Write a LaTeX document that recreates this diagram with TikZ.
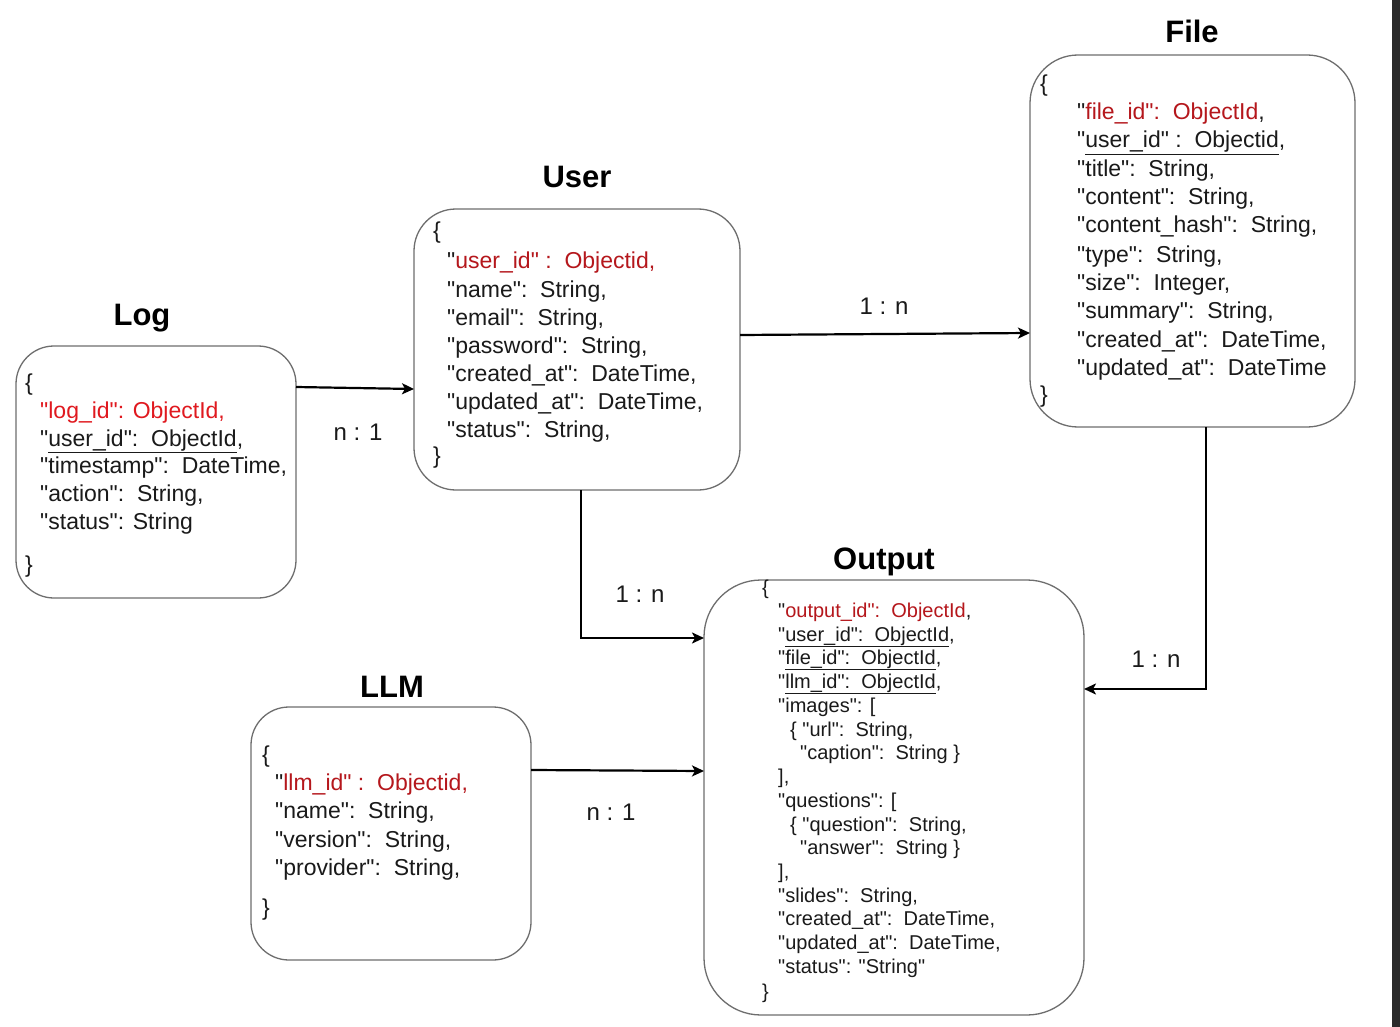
\documentclass[tikz,border=0pt]{standalone}
\usepackage{fontspec}
\setmainfont{Liberation Sans}[Ligatures=TeXOff]
\usetikzlibrary{arrows.meta,calc}
\definecolor{txt}{HTML}{1A1A1A}
\definecolor{redA}{HTML}{E0191F}
\definecolor{redB}{HTML}{B5171C}
\definecolor{edgegray}{HTML}{6E6E6E}
\definecolor{stripcol}{HTML}{2B2B2B}
\begin{document}
\begin{tikzpicture}[x=1pt,y=-1pt,
  box/.style={draw=edgegray, line width=1.3pt, fill=white, anchor=north west, inner sep=0pt, outer sep=0pt},
  fldA/.style={anchor=base west, inner sep=0pt, text=txt, font=\fontsize{23}{28}\selectfont},
  fldB/.style={anchor=base west, inner sep=0pt, text=txt, font=\fontsize{20}{24}\selectfont},
  ttl/.style={anchor=base, inner sep=0pt, text=black, font=\fontsize{31}{36}\selectfont\bfseries},
  lbl/.style={anchor=base, inner sep=0pt, text=txt, font=\fontsize{24}{28}\selectfont},
  conn/.style={draw=black, line width=2.2pt, -{Stealth[length=12pt,width=11pt,inset=3pt]}},
]
\useasboundingbox (0,0) rectangle (1400,1027);
\fill[white] (0,0) rectangle (1400,1027);
\fill[stripcol] (1392,0) rectangle (1400,1027);

% ---------- boxes ----------
\node[box, minimum width=280pt, minimum height=252pt, rounded corners=38pt] (log) at (16,346) {};
\node[box, minimum width=326pt, minimum height=281pt, rounded corners=42pt] (user) at (414,209) {};
\node[box, minimum width=325pt, minimum height=372pt, rounded corners=48pt] (file) at (1030,55) {};
\node[box, minimum width=380pt, minimum height=435pt, rounded corners=57pt] (output) at (704,580) {};
\node[box, minimum width=280pt, minimum height=253pt, rounded corners=38pt] (llm) at (251,707) {};

% ---------- titles ----------
\node[ttl] (tlog) at (142,325) {Log};
\node[ttl] (tuser) at (577,188) {User};
\node[ttl] (tfile) at (1192,43) {File};
\node[ttl] (toutput) at (884,569) {Output};
\node[ttl] (tllm) at (392,697) {LLM};

% ---------- Log ----------
\node[fldA] (logo) at (25,390) {\{};
\node[fldA, text=redA] (log1) at (40,418) {"log\_id": ObjectId,};
\node[fldA] (log2) at (40,446) {"\underline{user\_id":~~ObjectId},};
\node[fldA] (log3) at (40,473) {"timestamp":~~DateTime,};
\node[fldA] (log4) at (40,501) {"action":~~String,};
\node[fldA] (log5) at (40,529) {"status": String};
\node[fldA] (logc) at (25,572) {\}};

% ---------- User ----------
\node[fldA] (usero) at (433,238) {\{};
\node[fldA] (user1) at (447,269) {"\textcolor{redB}{user\_id" :~~Objectid,}};
\node[fldA] (user2) at (447,297) {"name":~~String,};
\node[fldA] (user3) at (447,325) {"email":~~String,};
\node[fldA] (user4) at (447,353) {"password":~~String,};
\node[fldA] (user5) at (447,381) {"created\_at":~~DateTime,};
\node[fldA] (user6) at (447,409) {"updated\_at":~~DateTime,};
\node[fldA] (user7) at (447,437) {"status":~~String,};
\node[fldA] (userc) at (433,463) {\}};

% ---------- File ----------
\node[fldA] (fileo) at (1040,92) {\{};
\node[fldA] (file1) at (1077,120) {"\textcolor{redB}{file\_id":~~ObjectId},};
\node[fldA] (file2) at (1077,148) {"\underline{user\_id" :~~Objectid},};
\node[fldA] (file3) at (1077,177) {"title":~~String,};
\node[fldA] (file4) at (1077,205) {"content":~~String,};
\node[fldA] (file5) at (1077,233) {"content\_hash":~~String,};
\node[fldA] (file6) at (1077,262) {"type":~~String,};
\node[fldA] (file7) at (1077,290) {"size":~~Integer,};
\node[fldA] (file8) at (1077,318) {"summary":~~String,};
\node[fldA] (file9) at (1077,347) {"created\_at":~~DateTime,};
\node[fldA] (file10) at (1077,375) {"updated\_at":~~DateTime};
\node[fldA] (filec) at (1040,402) {\}};

% ---------- Output ----------
\node[fldB] (outo) at (762,594) {\{};
\node[fldB] (out1) at (778,617) {"\textcolor{redB}{output\_id":~~ObjectId},};
\node[fldB] (out2) at (778,641) {"\underline{user\_id":~~ObjectId},};
\node[fldB] (out3) at (778,664) {"\underline{file\_id":~~ObjectId},};
\node[fldB] (out4) at (778,688) {"\underline{llm\_id":~~ObjectId},};
\node[fldB] (out5) at (778,712) {"images": [};
\node[fldB] (out6) at (790,736) {\{ "url":~~String,};
\node[fldB] (out7) at (800,759) {"caption":~~String \}};
\node[fldB] (out8) at (778,783) {],};
\node[fldB] (out9) at (778,807) {"questions": [};
\node[fldB] (out10) at (790,831) {\{ "question":~~String,};
\node[fldB] (out11) at (800,854) {"answer":~~String \}};
\node[fldB] (out12) at (778,878) {],};
\node[fldB] (out13) at (778,902) {"slides":~~String,};
\node[fldB] (out14) at (778,925) {"created\_at":~~DateTime,};
\node[fldB] (out15) at (778,949) {"updated\_at":~~DateTime,};
\node[fldB] (out16) at (778,973) {"status": "String"};
\node[fldB] (outc) at (762,998) {\}};

% ---------- LLM ----------
\node[fldA] (llmo) at (262,762) {\{};
\node[fldA] (llm1) at (275,790) {"\textcolor{redB}{llm\_id" :~~Objectid,}};
\node[fldA] (llm2) at (275,818) {"name":~~String,};
\node[fldA] (llm3) at (275,847) {"version":~~String,};
\node[fldA] (llm4) at (275,875) {"provider":~~String,};
\node[fldA] (llmc) at (262,915) {\}};

% ---------- connectors ----------
\draw[conn] ([yshift=-41pt]log.north east) -- ([yshift=-180pt]user.north west);
\draw[conn] ([yshift=-126pt]user.north east) -- ([yshift=-278pt]file.north west);
\draw[conn] ([xshift=4pt]user.south) |- ([yshift=-58pt]output.north west);
\draw[conn] ([yshift=-63pt]llm.north east) -- ([yshift=-191pt]output.north west);
\draw[conn] ([xshift=13.5pt]file.south) |- ([yshift=-109pt]output.north east);

% ---------- labels ----------
\node[lbl] (l1) at (358,440) {n : 1};
\node[lbl] (l2) at (884,314) {1 : n};
\node[lbl] (l3) at (640,602) {1 : n};
\node[lbl] (l4) at (611,820) {n : 1};
\node[lbl] (l5) at (1156,667) {1 : n};
\end{tikzpicture}
\end{document}
